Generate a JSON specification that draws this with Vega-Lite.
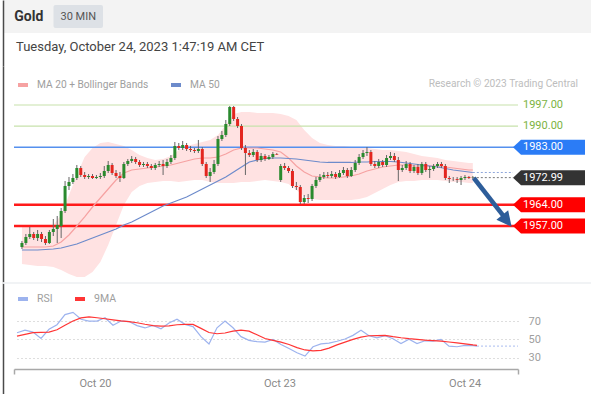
{
"$schema": "https://vega.github.io/schema/vega-lite/v6.json",
"padding": 0,
"background": "white",
"spacing": 0,
"config": {"view": {"stroke": null}, "font": "Roboto", "axis": {"domain": false, "ticks": false, "labels": false, "grid": false}},
"resolve": {"scale": {"color": "independent"}, "legend": {"color": "independent"}},
"datasets": {
"bars": [
{"i":0,"o":1950.06,"h":1952.04,"l":1949.40,"c":1951.38},
{"i":1,"o":1951.38,"h":1954.36,"l":1950.72,"c":1953.36},
{"i":2,"o":1953.36,"h":1956.67,"l":1952.70,"c":1954.36},
{"i":3,"o":1954.36,"h":1955.02,"l":1952.37,"c":1953.03},
{"i":4,"o":1953.03,"h":1955.68,"l":1952.04,"c":1954.36},
{"i":5,"o":1954.36,"h":1955.02,"l":1951.71,"c":1952.70},
{"i":6,"o":1952.70,"h":1953.69,"l":1950.72,"c":1951.38},
{"i":7,"o":1951.38,"h":1955.68,"l":1951.05,"c":1955.02},
{"i":8,"o":1955.02,"h":1959.31,"l":1953.69,"c":1956.01},
{"i":9,"o":1956.01,"h":1960.31,"l":1951.38,"c":1957.33},
{"i":10,"o":1957.00,"h":1962.95,"l":1953.03,"c":1961.96},
{"i":11,"o":1961.96,"h":1971.88,"l":1961.30,"c":1970.22},
{"i":12,"o":1970.22,"h":1973.20,"l":1968.90,"c":1971.55},
{"i":13,"o":1971.55,"h":1974.19,"l":1970.88,"c":1972.87},
{"i":14,"o":1972.87,"h":1977.17,"l":1972.21,"c":1976.17},
{"i":15,"o":1976.17,"h":1976.83,"l":1973.20,"c":1973.86},
{"i":16,"o":1973.86,"h":1974.85,"l":1972.54,"c":1973.20},
{"i":17,"o":1973.20,"h":1974.19,"l":1972.54,"c":1973.53},
{"i":18,"o":1973.53,"h":1974.19,"l":1972.54,"c":1972.87},
{"i":19,"o":1972.87,"h":1973.86,"l":1972.54,"c":1973.20},
{"i":20,"o":1973.20,"h":1974.52,"l":1972.54,"c":1973.53},
{"i":21,"o":1973.53,"h":1976.83,"l":1972.87,"c":1975.18},
{"i":22,"o":1975.18,"h":1978.49,"l":1974.52,"c":1977.17},
{"i":23,"o":1977.17,"h":1977.83,"l":1973.86,"c":1974.52},
{"i":24,"o":1974.52,"h":1975.51,"l":1972.87,"c":1973.53},
{"i":25,"o":1973.53,"h":1974.85,"l":1971.55,"c":1972.87},
{"i":26,"o":1972.87,"h":1978.16,"l":1972.54,"c":1977.50},
{"i":27,"o":1977.50,"h":1979.15,"l":1976.83,"c":1978.49},
{"i":28,"o":1978.49,"h":1980.14,"l":1977.83,"c":1979.15},
{"i":29,"o":1979.15,"h":1979.81,"l":1977.50,"c":1978.16},
{"i":30,"o":1978.16,"h":1978.82,"l":1976.50,"c":1977.17},
{"i":31,"o":1977.17,"h":1978.16,"l":1976.50,"c":1977.50},
{"i":32,"o":1977.50,"h":1978.16,"l":1976.17,"c":1976.83},
{"i":33,"o":1976.83,"h":1977.50,"l":1975.51,"c":1976.17},
{"i":34,"o":1976.17,"h":1977.83,"l":1975.51,"c":1977.17},
{"i":35,"o":1977.17,"h":1978.49,"l":1976.50,"c":1977.50},
{"i":36,"o":1977.50,"h":1978.82,"l":1973.86,"c":1976.83},
{"i":37,"o":1976.83,"h":1979.15,"l":1976.17,"c":1978.16},
{"i":38,"o":1978.16,"h":1980.47,"l":1977.50,"c":1979.48},
{"i":39,"o":1979.48,"h":1984.77,"l":1978.82,"c":1983.45},
{"i":40,"o":1983.45,"h":1984.44,"l":1982.12,"c":1982.79},
{"i":41,"o":1982.79,"h":1985.10,"l":1982.12,"c":1983.78},
{"i":42,"o":1983.78,"h":1984.44,"l":1981.79,"c":1982.45},
{"i":43,"o":1982.45,"h":1983.45,"l":1981.46,"c":1982.12},
{"i":44,"o":1982.12,"h":1982.79,"l":1981.13,"c":1981.79},
{"i":45,"o":1981.79,"h":1985.43,"l":1981.13,"c":1982.45},
{"i":46,"o":1982.45,"h":1983.12,"l":1976.83,"c":1977.50},
{"i":47,"o":1977.50,"h":1978.16,"l":1972.87,"c":1973.53},
{"i":48,"o":1973.53,"h":1976.17,"l":1971.55,"c":1974.85},
{"i":49,"o":1974.85,"h":1978.82,"l":1974.19,"c":1977.50},
{"i":50,"o":1977.50,"h":1986.75,"l":1976.83,"c":1985.76},
{"i":51,"o":1985.76,"h":1988.40,"l":1985.10,"c":1987.08},
{"i":52,"o":1987.08,"h":1992.04,"l":1986.42,"c":1990.72},
{"i":53,"o":1990.72,"h":1996.67,"l":1990.06,"c":1996.34},
{"i":54,"o":1996.34,"h":1996.67,"l":1991.71,"c":1992.37},
{"i":55,"o":1992.37,"h":1993.03,"l":1989.40,"c":1990.06},
{"i":56,"o":1990.06,"h":1990.72,"l":1982.12,"c":1982.79},
{"i":57,"o":1982.79,"h":1983.78,"l":1973.86,"c":1981.13},
{"i":58,"o":1981.13,"h":1982.12,"l":1979.81,"c":1980.47},
{"i":59,"o":1980.47,"h":1982.45,"l":1979.81,"c":1981.46},
{"i":60,"o":1981.46,"h":1982.12,"l":1978.16,"c":1978.82},
{"i":61,"o":1978.82,"h":1981.13,"l":1978.16,"c":1980.14},
{"i":62,"o":1980.14,"h":1980.80,"l":1978.49,"c":1979.15},
{"i":63,"o":1979.15,"h":1980.47,"l":1978.82,"c":1979.81},
{"i":64,"o":1979.81,"h":1981.46,"l":1979.15,"c":1980.80},
{"i":65,"o":1980.80,"h":1981.13,"l":1980.47,"c":1980.60},
{"i":66,"o":1972.21,"h":1977.50,"l":1971.55,"c":1976.83},
{"i":67,"o":1976.83,"h":1977.83,"l":1975.51,"c":1976.17},
{"i":68,"o":1976.17,"h":1976.83,"l":1974.52,"c":1975.18},
{"i":69,"o":1975.18,"h":1975.84,"l":1969.56,"c":1970.22},
{"i":70,"o":1970.22,"h":1971.55,"l":1968.90,"c":1969.89},
{"i":71,"o":1969.89,"h":1970.55,"l":1964.27,"c":1964.93},
{"i":72,"o":1964.93,"h":1967.25,"l":1964.27,"c":1966.26},
{"i":73,"o":1966.26,"h":1967.58,"l":1964.60,"c":1965.93},
{"i":74,"o":1965.93,"h":1970.88,"l":1965.26,"c":1970.22},
{"i":75,"o":1970.22,"h":1973.20,"l":1969.56,"c":1972.21},
{"i":76,"o":1972.21,"h":1974.19,"l":1971.55,"c":1973.20},
{"i":77,"o":1973.20,"h":1974.85,"l":1972.54,"c":1973.86},
{"i":78,"o":1973.86,"h":1974.85,"l":1972.87,"c":1973.53},
{"i":79,"o":1973.53,"h":1975.18,"l":1972.87,"c":1974.19},
{"i":80,"o":1974.19,"h":1974.85,"l":1972.54,"c":1973.20},
{"i":81,"o":1973.20,"h":1975.51,"l":1972.87,"c":1974.52},
{"i":82,"o":1974.52,"h":1976.50,"l":1973.86,"c":1975.51},
{"i":83,"o":1975.51,"h":1976.17,"l":1972.87,"c":1973.53},
{"i":84,"o":1973.53,"h":1976.50,"l":1973.20,"c":1975.51},
{"i":85,"o":1975.51,"h":1978.82,"l":1974.85,"c":1977.83},
{"i":86,"o":1977.83,"h":1980.80,"l":1977.17,"c":1979.81},
{"i":87,"o":1979.81,"h":1982.12,"l":1979.15,"c":1981.13},
{"i":88,"o":1981.13,"h":1983.12,"l":1980.14,"c":1981.46},
{"i":89,"o":1981.46,"h":1982.12,"l":1976.83,"c":1977.50},
{"i":90,"o":1977.50,"h":1978.49,"l":1976.17,"c":1976.83},
{"i":91,"o":1976.83,"h":1979.15,"l":1976.17,"c":1978.16},
{"i":92,"o":1978.16,"h":1978.82,"l":1976.50,"c":1977.17},
{"i":93,"o":1977.17,"h":1980.47,"l":1976.50,"c":1979.48},
{"i":94,"o":1979.48,"h":1981.46,"l":1978.82,"c":1980.14},
{"i":95,"o":1980.14,"h":1981.13,"l":1978.16,"c":1978.82},
{"i":96,"o":1978.82,"h":1979.81,"l":1971.88,"c":1975.51},
{"i":97,"o":1975.51,"h":1977.17,"l":1974.85,"c":1976.17},
{"i":98,"o":1976.17,"h":1978.49,"l":1975.51,"c":1977.50},
{"i":99,"o":1977.50,"h":1978.16,"l":1974.52,"c":1975.18},
{"i":100,"o":1975.18,"h":1977.17,"l":1974.52,"c":1976.50},
{"i":101,"o":1976.50,"h":1977.50,"l":1973.86,"c":1974.52},
{"i":102,"o":1974.52,"h":1978.16,"l":1973.86,"c":1977.50},
{"i":103,"o":1977.50,"h":1978.16,"l":1974.85,"c":1975.51},
{"i":104,"o":1975.51,"h":1976.83,"l":1972.87,"c":1975.84},
{"i":105,"o":1975.84,"h":1977.50,"l":1975.18,"c":1976.83},
{"i":106,"o":1976.83,"h":1978.16,"l":1976.17,"c":1977.50},
{"i":107,"o":1977.50,"h":1978.16,"l":1976.17,"c":1976.83},
{"i":108,"o":1976.83,"h":1977.50,"l":1972.21,"c":1972.87},
{"i":109,"o":1972.87,"h":1973.53,"l":1971.22,"c":1972.54},
{"i":110,"o":1972.54,"h":1973.20,"l":1971.88,"c":1972.50},
{"i":111,"o":1972.50,"h":1973.20,"l":1971.22,"c":1972.21},
{"i":112,"o":1972.21,"h":1973.53,"l":1970.55,"c":1972.87},
{"i":113,"o":1972.87,"h":1973.86,"l":1972.21,"c":1973.20},
{"i":114,"o":1973.20,"h":1973.53,"l":1972.54,"c":1972.87},
{"i":115,"o":1972.87,"h":1973.53,"l":1972.54,"c":1972.99}
],
"ind": [
{"i":0,"up":1956.67,"m20":1950.06,"lo":1944.44,"m50":1949.07},
{"i":2,"up":1957.00,"m20":1950.06,"lo":1944.11,"m50":1949.07},
{"i":4,"up":1957.00,"m20":1950.06,"lo":1943.78,"m50":1949.07},
{"i":6,"up":1957.00,"m20":1950.06,"lo":1943.78,"m50":1949.24},
{"i":8,"up":1957.33,"m20":1950.39,"lo":1943.45,"m50":1949.40},
{"i":10,"up":1960.64,"m20":1951.71,"lo":1942.45,"m50":1949.73},
{"i":12,"up":1967.25,"m20":1954.02,"lo":1941.13,"m50":1950.39},
{"i":14,"up":1973.86,"m20":1957.00,"lo":1940.14,"m50":1951.05},
{"i":16,"up":1979.81,"m20":1959.98,"lo":1940.14,"m50":1952.04},
{"i":18,"up":1982.79,"m20":1963.28,"lo":1941.79,"m50":1953.03},
{"i":20,"up":1984.44,"m20":1966.26,"lo":1945.10,"m50":1954.02},
{"i":22,"up":1984.77,"m20":1969.23,"lo":1950.72,"m50":1955.02},
{"i":24,"up":1984.11,"m20":1972.21,"lo":1957.33,"m50":1956.01},
{"i":26,"up":1983.45,"m20":1974.52,"lo":1963.94,"m50":1957.33},
{"i":28,"up":1982.12,"m20":1975.51,"lo":1968.24,"m50":1958.32},
{"i":30,"up":1980.47,"m20":1975.84,"lo":1970.22,"m50":1959.64},
{"i":32,"up":1979.48,"m20":1976.17,"lo":1971.22,"m50":1960.97},
{"i":34,"up":1978.82,"m20":1976.50,"lo":1971.55,"m50":1962.29},
{"i":36,"up":1979.15,"m20":1976.83,"lo":1971.88,"m50":1963.61},
{"i":38,"up":1980.14,"m20":1977.17,"lo":1971.88,"m50":1964.60},
{"i":40,"up":1982.12,"m20":1977.83,"lo":1971.55,"m50":1965.60},
{"i":42,"up":1983.45,"m20":1978.49,"lo":1971.88,"m50":1966.59},
{"i":44,"up":1984.11,"m20":1979.15,"lo":1972.21,"m50":1967.91},
{"i":46,"up":1984.77,"m20":1979.48,"lo":1972.21,"m50":1969.23},
{"i":48,"up":1985.43,"m20":1979.48,"lo":1971.55,"m50":1970.55},
{"i":50,"up":1987.08,"m20":1979.81,"lo":1971.22,"m50":1971.88},
{"i":52,"up":1990.39,"m20":1980.80,"lo":1971.22,"m50":1973.20},
{"i":54,"up":1994.02,"m20":1982.12,"lo":1971.22,"m50":1974.85},
{"i":56,"up":1994.69,"m20":1982.79,"lo":1971.55,"m50":1976.50},
{"i":58,"up":1994.69,"m20":1982.79,"lo":1971.55,"m50":1978.16},
{"i":60,"up":1994.36,"m20":1982.79,"lo":1971.88,"m50":1978.82},
{"i":62,"up":1994.36,"m20":1982.45,"lo":1972.21,"m50":1979.32},
{"i":64,"up":1994.36,"m20":1982.12,"lo":1971.88,"m50":1979.48},
{"i":66,"up":1994.02,"m20":1981.46,"lo":1971.55,"m50":1979.48},
{"i":68,"up":1993.36,"m20":1979.48,"lo":1970.88,"m50":1979.32},
{"i":70,"up":1992.04,"m20":1976.83,"lo":1968.90,"m50":1979.15},
{"i":72,"up":1988.74,"m20":1974.85,"lo":1966.92,"m50":1978.82},
{"i":74,"up":1986.09,"m20":1973.53,"lo":1965.93,"m50":1978.49},
{"i":76,"up":1984.44,"m20":1973.20,"lo":1965.60,"m50":1978.16},
{"i":78,"up":1983.78,"m20":1972.87,"lo":1965.60,"m50":1978.00},
{"i":80,"up":1983.45,"m20":1972.87,"lo":1965.60,"m50":1978.00},
{"i":82,"up":1983.45,"m20":1973.20,"lo":1965.60,"m50":1978.00},
{"i":84,"up":1983.12,"m20":1973.53,"lo":1965.60,"m50":1978.00},
{"i":86,"up":1982.79,"m20":1974.19,"lo":1965.93,"m50":1978.16},
{"i":88,"up":1982.79,"m20":1975.18,"lo":1966.59,"m50":1978.16},
{"i":90,"up":1982.45,"m20":1975.84,"lo":1967.91,"m50":1978.33},
{"i":92,"up":1982.12,"m20":1976.50,"lo":1969.23,"m50":1978.33},
{"i":94,"up":1982.12,"m20":1976.83,"lo":1970.55,"m50":1978.33},
{"i":96,"up":1981.79,"m20":1977.17,"lo":1971.55,"m50":1978.16},
{"i":98,"up":1981.46,"m20":1977.17,"lo":1971.88,"m50":1977.83},
{"i":100,"up":1980.80,"m20":1976.83,"lo":1971.88,"m50":1977.50},
{"i":102,"up":1980.14,"m20":1976.83,"lo":1972.21,"m50":1977.17},
{"i":104,"up":1979.81,"m20":1976.83,"lo":1972.21,"m50":1976.83},
{"i":106,"up":1979.48,"m20":1976.83,"lo":1972.21,"m50":1976.50},
{"i":108,"up":1978.82,"m20":1976.50,"lo":1971.88,"m50":1976.01},
{"i":110,"up":1978.49,"m20":1976.17,"lo":1971.55,"m50":1975.51},
{"i":112,"up":1978.16,"m20":1975.84,"lo":1971.55,"m50":1975.18},
{"i":114,"up":1977.83,"m20":1975.51,"lo":1971.22,"m50":1974.85},
{"i":115,"up":1977.83,"m20":1975.51,"lo":1971.22,"m50":1974.69}
],
"osc": [
{"i":0,"rsi":57.3,"r9":53.6},{"i":2,"rsi":60,"r9":55.5},{"i":4,"rsi":58,"r9":57.3},{"i":6,"rsi":51,"r9":57.6},
{"i":8,"rsi":61,"r9":58},{"i":10,"rsi":66,"r9":60.5},{"i":12,"rsi":77,"r9":65.5},{"i":14,"rsi":79.5,"r9":70},
{"i":16,"rsi":72,"r9":73.5},{"i":18,"rsi":70,"r9":74.5},{"i":20,"rsi":70,"r9":73.6},{"i":22,"rsi":73.6,"r9":72.5},
{"i":24,"rsi":65.5,"r9":71.3},{"i":26,"rsi":70,"r9":70.2},{"i":28,"rsi":69.5,"r9":69.3},{"i":30,"rsi":65,"r9":68.2},
{"i":32,"rsi":62.5,"r9":66.5},{"i":34,"rsi":65.3,"r9":65},{"i":36,"rsi":61.6,"r9":64.5},{"i":38,"rsi":68,"r9":64.8},
{"i":40,"rsi":72,"r9":66},{"i":42,"rsi":66.4,"r9":66.4},{"i":44,"rsi":64,"r9":66.4},{"i":46,"rsi":53,"r9":62},
{"i":48,"rsi":45,"r9":57.5},{"i":50,"rsi":62.7,"r9":56.2},{"i":52,"rsi":70,"r9":57},{"i":54,"rsi":62.7,"r9":59},
{"i":56,"rsi":53,"r9":60.2},{"i":58,"rsi":49,"r9":59},{"i":60,"rsi":47.5,"r9":55},{"i":62,"rsi":47,"r9":51},
{"i":64,"rsi":50,"r9":49},{"i":66,"rsi":44.5,"r9":47},{"i":68,"rsi":40,"r9":44.5},{"i":70,"rsi":35.5,"r9":41},
{"i":72,"rsi":31.8,"r9":38.5},{"i":74,"rsi":42,"r9":37.5},{"i":76,"rsi":45.2,"r9":38},{"i":78,"rsi":46,"r9":40.5},
{"i":80,"rsi":48,"r9":44},{"i":82,"rsi":50.5,"r9":47},{"i":84,"rsi":54.4,"r9":50},{"i":86,"rsi":60,"r9":52.5},
{"i":88,"rsi":54,"r9":54},{"i":90,"rsi":51.8,"r9":54.2},{"i":92,"rsi":54,"r9":54.4},{"i":94,"rsi":50.7,"r9":53},
{"i":96,"rsi":45.4,"r9":51.8},{"i":98,"rsi":50.2,"r9":50.8},{"i":100,"rsi":45.4,"r9":50},{"i":102,"rsi":48.5,"r9":49.2},
{"i":104,"rsi":48.2,"r9":48.7},{"i":106,"rsi":50,"r9":48.2},{"i":108,"rsi":42.7,"r9":47.2},{"i":110,"rsi":42,"r9":46.2},
{"i":112,"rsi":43.5,"r9":45.2},{"i":114,"rsi":43.2,"r9":44},{"i":115,"rsi":42.7,"r9":43.5}
],
"levels": [
{"p":1997,"lab":"1997.00","kind":"resistance"},
{"p":1990,"lab":"1990.00","kind":"resistance"},
{"p":1983,"lab":"1983.00","kind":"pivot"},
{"p":1972.99,"lab":"1972.99","kind":"last"},
{"p":1964,"lab":"1964.00","kind":"support"},
{"p":1957,"lab":"1957.00","kind":"support"}
],
"arrow": [{"i":115.25,"p":1972.87},{"i":123.4,"p":1959.35}],
"arrowhead": [{"i":124.9,"p":1956.77}]
},
"vconcat": [
{
"width": 577, "height": 66,
"data": {"values": [
{"item":"Gold","row":"bar","txt":"Gold"},
{"item":"30 MIN","row":"bar","txt":"30 MIN"},
{"item":"Gold","row":"date","txt":"Tuesday, October 24, 2023 1:47:19 AM CET"}
]},
"layer": [
{"transform":[{"filter":"datum.item == 'Gold' && datum.row == 'bar'"}],
 "mark":{"type":"rect","color":"#f3f3f3"},
 "encoding":{
  "x":{"field":"item","type":"nominal","bandPosition":0,"title":null,"axis":null,"scale":{"domain":["Gold","30 MIN"],"range":[-10,89],"paddingInner":0,"paddingOuter":0}},
  "x2":{"value":"width"},
  "y":{"field":"row","type":"nominal","title":null,"scale":{"domain":["bar","date"],"paddingInner":0,"paddingOuter":0},
   "axis":{"orient":"left","domain":true,"domainColor":"#4a4a4a","domainWidth":1.5,"labels":false,"ticks":false,"offset":11,"minExtent":3,"maxExtent":3}}}},
{"transform":[{"filter":"datum.item == '30 MIN'"}],
 "mark":{"type":"rect","color":"#dde1e6","height":{"band":0.7},"cornerRadius":2},
 "encoding":{"x":{"field":"item","type":"nominal","title":null,"axis":null},
   "y":{"field":"row","type":"nominal","title":null}}},
{"transform":[{"filter":"datum.item == 'Gold' && datum.row == 'bar'"}],
 "mark":{"type":"text","fontSize":14,"fontWeight":"bold","color":"#333333"},
 "encoding":{"x":{"field":"item","type":"nominal","title":null,"axis":null},"y":{"field":"row","type":"nominal","title":null},"text":{"field":"txt"}}},
{"transform":[{"filter":"datum.item == '30 MIN'"}],
 "mark":{"type":"text","fontSize":11,"color":"#555555"},
 "encoding":{"x":{"field":"item","type":"nominal","title":null,"axis":null},"y":{"field":"row","type":"nominal","title":null},"text":{"field":"txt"}}},
{"transform":[{"filter":"datum.row == 'date'"}],
 "mark":{"type":"text","fontSize":13,"color":"#444444","align":"left","dx":12,"dy":-3},
 "encoding":{"x":{"field":"item","type":"nominal","bandPosition":0,"title":null,"axis":null},"y":{"field":"row","type":"nominal","title":null},"text":{"field":"txt"}}}
]
},
{
"width": 504, "height": 216,
"layer": [
{"data":{"name":"ind"},
 "mark":{"type":"area","color":"#ffe2e2","opacity":1},
 "encoding":{
  "x":{"field":"i","type":"quantitative","title":null,"axis":null,"scale":{"domain":[-0.75,125.25],"nice":false,"zero":false}},
  "y":{"field":"up","type":"quantitative","title":null,"scale":{"domain":[1938.49,2009.89],"nice":false,"zero":false},
    "axis":{"orient":"left","domain":true,"domainColor":"#4a4a4a","domainWidth":1.5,"labels":false,"ticks":false,"grid":false,"offset":11,"minExtent":3,"maxExtent":3}},
  "y2":{"field":"lo"}}},
{"data":{"name":"levels"},"transform":[{"filter":"datum.kind == 'resistance'"}],
 "mark":{"type":"rule","color":"#c7e2ab","strokeWidth":1.2},
 "encoding":{"y":{"field":"p","type":"quantitative","title":null}}},
{"data":{"name":"levels"},"transform":[{"filter":"datum.kind == 'pivot'"}],
 "mark":{"type":"rule","color":"#5590ee","strokeWidth":1.5},
 "encoding":{"y":{"field":"p","type":"quantitative","title":null}}},
{"data":{"name":"levels"},"transform":[{"filter":"datum.kind == 'support'"}],
 "mark":{"type":"rule","color":"#ff1a1a","strokeWidth":2.5},
 "encoding":{"y":{"field":"p","type":"quantitative","title":null}}},
{"data":{"name":"ind"},"transform":[{"fold":["m20","m50"],"as":["key","v"]}],
 "mark":{"type":"line","strokeWidth":1.2},
 "encoding":{
  "x":{"field":"i","type":"quantitative","title":null,"axis":null},
  "y":{"field":"v","type":"quantitative","title":null},
  "color":{"field":"key","type":"nominal","scale":{"domain":["m20","m50"],"range":["#f6a2a2","#6d8bcb"]},
   "legend":{"orient":"none","legendX":2,"legendY":12,"direction":"horizontal","title":null,"symbolType":"stroke","symbolStrokeWidth":4,"symbolSize":100,"labelFontSize":10.2,"labelColor":"#9e9e9e","labelOffset":7,"columnPadding":14,
    "labelExpr":"datum.label == 'm20' ? 'MA 20 + Bollinger Bands' : 'MA 50'"}}}},
{"data":{"name":"bars"},
 "mark":{"type":"rule","color":"#666666","strokeWidth":1},
 "encoding":{"x":{"field":"i","type":"quantitative","title":null,"axis":null},"y":{"field":"l","type":"quantitative","title":null},"y2":{"field":"h"}}},
{"data":{"name":"bars"},
 "mark":{"type":"bar","width":3},
 "encoding":{"x":{"field":"i","type":"quantitative","title":null,"axis":null},"y":{"field":"o","type":"quantitative","title":null},"y2":{"field":"c"},
  "color":{"condition":{"test":"datum.c >= datum.o","value":"#2a8a2e"},"value":"#e3261f"}}},
{"data":{"name":"bars"},"transform":[{"filter":"datum.i == 115"}],
 "mark":{"type":"rule","color":"#777777","strokeDash":[2,2],"strokeWidth":1},
 "encoding":{"x":{"field":"i","type":"quantitative","title":null,"axis":null},"x2":{"datum":125.25},"y":{"field":"c","type":"quantitative","title":null}}},
{"data":{"name":"ind"},"transform":[{"filter":"datum.i == 115"}],
 "mark":{"type":"rule","color":"#8ea6da","strokeDash":[2,2],"strokeWidth":1},
 "encoding":{"x":{"field":"i","type":"quantitative","title":null,"axis":null},"x2":{"datum":125.25},"y":{"field":"m50","type":"quantitative","title":null}}},
{"data":{"name":"levels"},"transform":[{"filter":"datum.kind != 'resistance'"}],
 "mark":{"type":"point","shape":"M0,0L8,-7.5L72,-7.5L72,7.5L8,7.5Z","size":4,"filled":true,"opacity":1,"strokeWidth":0},
 "encoding":{"x":{"datum":125.25,"type":"quantitative","title":null,"axis":null},"y":{"field":"p","type":"quantitative","title":null},
  "fill":{"field":"kind","type":"nominal","scale":{"domain":["pivot","last","support"],"range":["#2b7cf6","#333333","#ff0000"]},"legend":null}}},
{"data":{"name":"levels"},
 "mark":{"type":"text","align":"left","dx":10,"fontSize":11,"baseline":"middle"},
 "encoding":{"x":{"datum":125.25,"type":"quantitative","title":null,"axis":null},"y":{"field":"p","type":"quantitative","title":null},"text":{"field":"lab"},
  "color":{"condition":{"test":"datum.kind == 'resistance'","value":"#7cb342"},"value":"#ffffff"}}},
{"data":{"name":"arrow"},
 "mark":{"type":"line","color":"#2d5d9a","strokeWidth":4.5},
 "encoding":{"x":{"field":"i","type":"quantitative","title":null,"axis":null},"y":{"field":"p","type":"quantitative","title":null}}},
{"data":{"name":"arrowhead"},
 "mark":{"type":"point","shape":"M0,0L-7.5,-15L7.5,-15Z","size":4,"filled":true,"opacity":1,"strokeWidth":0,"color":"#2d5d9a","angle":-38.5},
 "encoding":{"x":{"field":"i","type":"quantitative","title":null,"axis":null},"y":{"field":"p","type":"quantitative","title":null}}},
{"data":{"values":[{"t":"Research © 2023 Trading Central"}]},
 "mark":{"type":"text","align":"right","dx":65,"fontSize":10.2,"color":"#bdbdbd","baseline":"middle"},
 "encoding":{"x":{"datum":125.25,"type":"quantitative","title":null,"axis":null},"y":{"datum":2003.94,"type":"quantitative","title":null},"text":{"field":"t"}}}
]
},
{
"width": 504, "height": 86,
"data": {"name":"osc"},
"layer": [
{"data":{"values":[{"sep":"panel"}]},
 "mark":{"type":"rule","color":"#eceff2","strokeWidth":1.5},
 "encoding":{"x":{"datum":-3.5,"type":"quantitative","title":null},"x2":{"datum":143.5},"y":{"datum":111.5,"type":"quantitative","title":null}}},
{"transform":[{"fold":["rsi","r9"],"as":["key","v"]}],
 "mark":{"type":"line","strokeWidth":1.2},
 "encoding":{
  "x":{"field":"i","type":"quantitative","title":null,"scale":{"domain":[-0.75,125.25],"nice":false,"zero":false},
   "axis":{"orient":"bottom","values":[-0.75,19.5,65.6,111.9,125.25],"domain":true,"domainColor":"#a8a8a8","domainWidth":1.5,"ticks":true,"tickSize":5,"tickWidth":1.5,"tickColor":"#a8a8a8",
    "tickOpacity":{"condition":{"test":"datum.value < 0 || datum.value > 125","value":1},"value":0},
    "labels":true,"labelColor":"#8a8a8a","labelFontSize":11,"labelPadding":3,"labelFlush":false,"labelOverlap":false,"labelBound":false,"grid":false,
    "labelExpr":"datum.value < 0 || datum.value > 125 ? '' : (datum.value < 40 ? 'Oct 20' : (datum.value < 90 ? 'Oct 23' : 'Oct 24'))"}},
  "y":{"field":"v","type":"quantitative","title":null,"scale":{"domain":[-10.6,111.5],"range":[112,0],"nice":false,"zero":false},
   "axis":{"orient":"left","domain":true,"domainColor":"#4a4a4a","domainWidth":1.5,"labels":false,"ticks":false,"grid":false,"offset":11,"minExtent":3,"maxExtent":3}},
  "color":{"field":"key","type":"nominal","scale":{"domain":["rsi","r9"],"range":["#9db3ee","#ff3535"]},
   "legend":{"orient":"none","legendX":2,"legendY":9,"direction":"horizontal","title":null,"symbolType":"stroke","symbolStrokeWidth":4,"symbolSize":100,"labelFontSize":10.5,"labelColor":"#9e9e9e","labelOffset":7,"columnPadding":14,
    "labelExpr":"datum.label == 'rsi' ? 'RSI' : '9MA'"}}}},
{"transform":[{"filter":"datum.i == 115"}],
 "mark":{"type":"rule","strokeDash":[2,2],"color":"#a9bcf0","strokeWidth":1},
 "encoding":{"x":{"field":"i","type":"quantitative","title":null},"x2":{"datum":125.25},
  "y":{"field":"rsi","type":"quantitative","title":null,
   "axis":{"orient":"right","values":[30,50,70],"grid":true,"gridDash":[1,3],"gridColor":"#bdbdbd","gridWidth":1,"domain":false,"ticks":false,"labels":true,"labelColor":"#9e9e9e","labelFontSize":11,"labelPadding":10}}}}
],
"resolve": {"axis": {"y": "independent"}}
}
]
}
